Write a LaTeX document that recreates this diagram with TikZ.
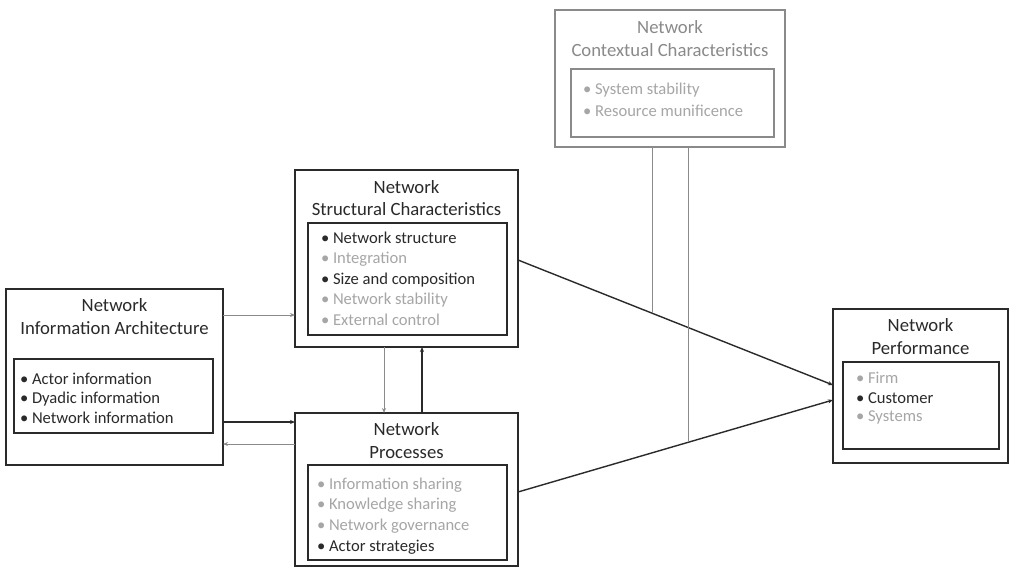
\documentclass[tikz,border=0pt]{standalone}
\usepackage{fontspec}
\setmainfont{Carlito}
\usetikzlibrary{arrows.meta}
\definecolor{ink}{HTML}{2A2A2A}
\definecolor{wire}{HTML}{8A8A8A}
\definecolor{soft}{HTML}{A6A6A6}
\begin{document}
\begin{tikzpicture}[x=1pt,y=-1pt,
  every node/.style={inner sep=0pt, outer sep=0pt},
  outerbox/.style={draw=ink, line width=1.3pt},
  innerbox/.style={draw=ink, line width=1.3pt},
  paleouter/.style={draw=wire, line width=1.1pt},
  title/.style={font=\fontsize{18.7}{22}\selectfont, text=ink, anchor=center},
  paletitle/.style={font=\fontsize{18.7}{22}\selectfont, text=wire, anchor=center},
  item/.style={font=\fontsize{16.6}{20}\selectfont, text=ink, anchor=west},
  paleitem/.style={font=\fontsize{16.6}{20}\selectfont, text=soft, anchor=west},
  strong/.style={draw=ink, line width=1.4pt, -{Stealth[length=5pt,width=4pt]}},
  faint/.style={draw=wire, line width=0.9pt, -{Stealth[length=5pt,width=4pt]}},
  faintline/.style={draw=wire, line width=0.9pt}]
\useasboundingbox[fill=white] (0,0) rectangle (1010,570);

% Network contextual characteristics
\node[paleouter, minimum width=230, minimum height=137] (ctx) at (670,78.5) {};
\node[paleouter, minimum width=203, minimum height=68] (ctxin) at (672.5,103) {};
\node[paletitle] (ctxt1) at (670,27) {Network};
\node[paletitle] (ctxt2) at (670,50) {Contextual Characteristics};
\node[paleitem] (ctxa) at (583,90) {• System stability};
\node[paleitem] (ctxb) at (583,111) {• Resource munificence};

% Network structural characteristics
\node[outerbox, minimum width=223, minimum height=177] (str) at (406.5,258.5) {};
\node[innerbox, minimum width=199, minimum height=112] (strin) at (407.5,279) {};
\node[title] (strt1) at (406.5,187) {Network};
\node[title] (strt2) at (406.5,209) {Structural Characteristics};
\node[item] (stra) at (321,238) {• Network structure};
\node[paleitem] (strb) at (321,259) {• Integration};
\node[item] (strc) at (321,280) {• Size and composition};
\node[paleitem] (strd) at (321,300) {• Network stability};
\node[paleitem] (stre) at (321,320) {• External control};

% Network information architecture
\node[outerbox, minimum width=217, minimum height=176] (arc) at (114.5,377) {};
\node[innerbox, minimum width=199, minimum height=74] (arcin) at (113.5,396) {};
\node[title] (arct1) at (114.5,305) {Network};
\node[title] (arct2) at (114.5,328) {Information Architecture};
\node[item] (arca) at (20,379) {• Actor information};
\node[item] (arcb) at (20,399) {• Dyadic information};
\node[item] (arcc) at (20,418) {• Network information};

% Network processes
\node[outerbox, minimum width=223, minimum height=153] (pro) at (406.5,489.5) {};
\node[innerbox, minimum width=199, minimum height=95] (proin) at (407.5,512.5) {};
\node[title] (prot1) at (406.5,429) {Network};
\node[title] (prot2) at (406.5,453) {Processes};
\node[paleitem] (proa) at (317,485) {• Information sharing};
\node[paleitem] (prob) at (317,505) {• Knowledge sharing};
\node[paleitem] (proc) at (317,526) {• Network governance};
\node[item] (prod) at (317,547) {• Actor strategies};

% Network performance
\node[outerbox, minimum width=175, minimum height=154] (per) at (920.5,386) {};
\node[innerbox, minimum width=156, minimum height=87] (perin) at (921,405.5) {};
\node[title] (pert1) at (920.5,325) {Network};
\node[title] (pert2) at (920.5,348) {Performance};
\node[paleitem] (pera) at (856,378) {• Firm};
\node[item] (perb) at (856,398) {• Customer};
\node[paleitem] (perc) at (856,417) {• Systems};

% Connectors between the blocks
\draw[faint] (arc.east |- 0,315) -- (str.west |- 0,315);
\draw[strong] (arc.east |- 0,422) -- (pro.west |- 0,422);
\draw[faint] (pro.west |- 0,444) -- (arc.east |- 0,444);
\draw[faint] (str.south -| 384,0) -- (pro.north -| 384,0);
\draw[strong] (pro.north -| 422,0) -- (str.south -| 422,0);
\draw[strong] (str.east |- 0,260) -- (per.west |- 0,385);
\draw[strong] (pro.east |- 0,492) -- (per.west |- 0,400);

% Moderating effects of the context
\coordinate (modA) at (652,313);
\coordinate (modB) at (688,442);
\draw[faintline] (ctx.south -| modA) -- (modA);
\draw[faintline] (ctx.south -| modB) -- (modB);
\end{tikzpicture}
\end{document}
